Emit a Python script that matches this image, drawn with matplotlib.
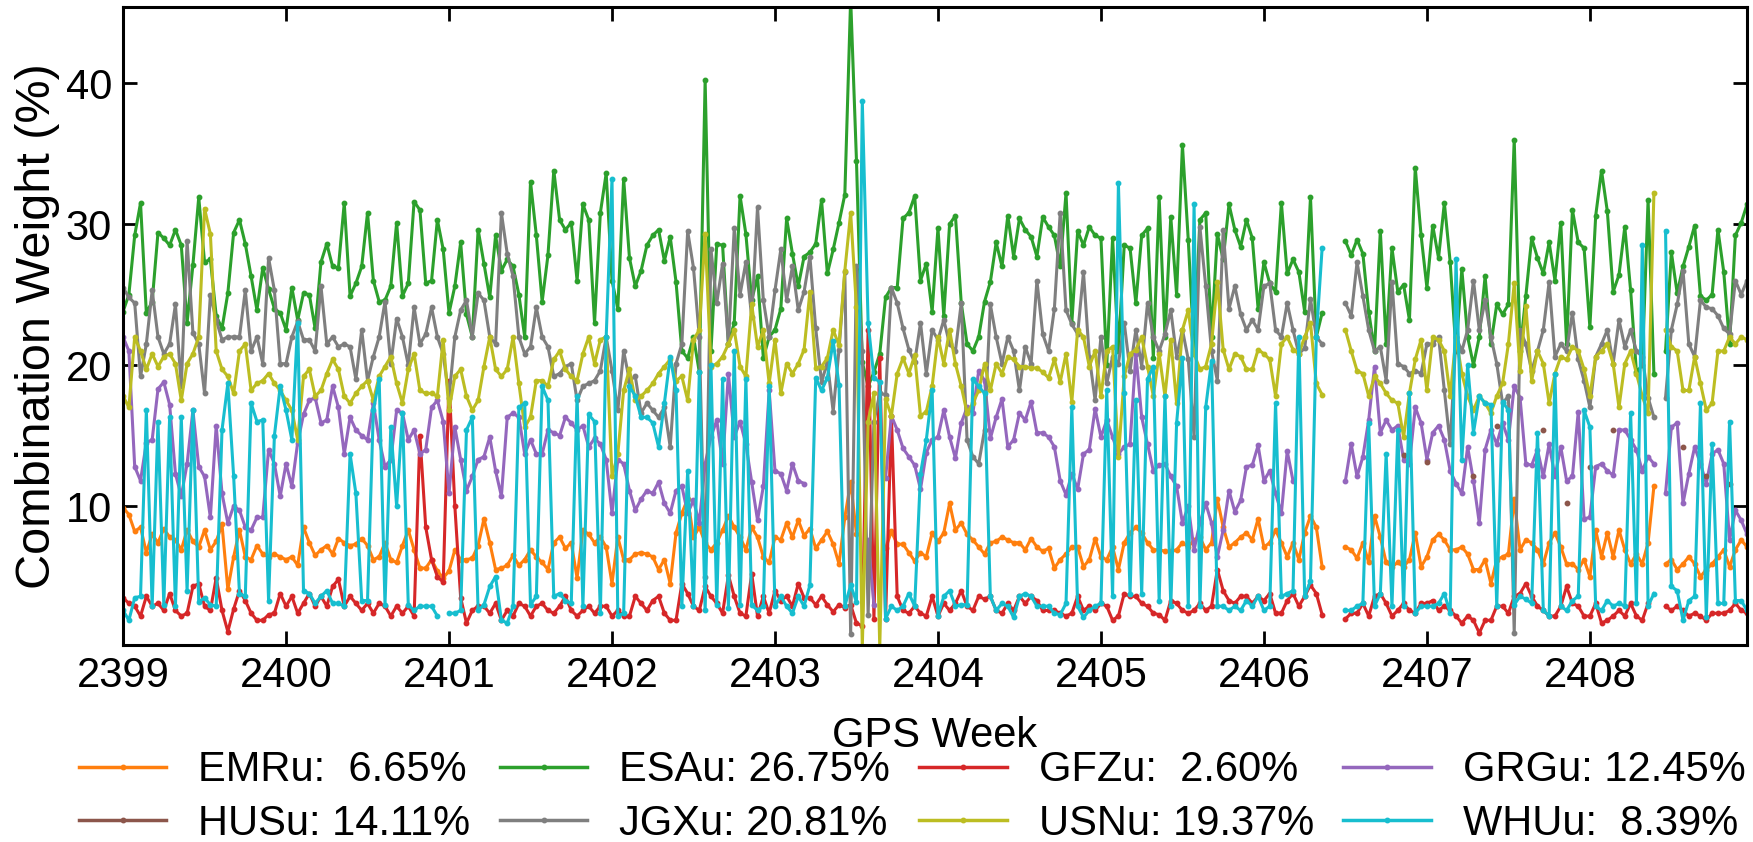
import numpy as np
import matplotlib
matplotlib.use("Agg")
import matplotlib.pyplot as plt

nan = float("nan")

# ---------------- data (6-hourly epochs, 28 per GPS week) ----------------
start_week = 2399
epochs_per_week = 28
n_epochs = 280

centers = ["EMRu", "ESAu", "GFZu", "GRGu", "HUSu", "JGXu", "USNu", "WHUu"]
mean_weights = [6.65, 26.75, 2.60, 12.45, 14.11, 20.81, 19.37, 8.39]
colors = ["#ff7f0e", "#2ca02c", "#d62728", "#9467bd", "#8c564b", "#7f7f7f", "#bcbd22", "#17becf"]

emr = [9.9, 9.4, 8.2, 8.5, 6.7, 8.0, 7.4, 8.4, 7.8, 7.6, 6.9, 8.3, 7.5, 7.1, 8.3, 6.9, 7.5, 8.7, 4.1, 6.4, 8.3, 6.4, 6.2, 7.2, 6.6, 6.4, 6.6, 6.4,
       6.2, 6.4, 5.8, 8.5, 7.4, 6.5, 6.9, 7.2, 6.6, 7.7, 7.4, 7.2, 7.3, 7.7, 7.2, 6.2, 6.4, 7.4, 6.2, 6.0, 7.2, 8.3, 6.9, 5.6, 5.6, 6.2, 5.4, 4.9,
       5.4, 6.9, 6.2, 6.2, 6.3, 7.2, 9.1, 7.4, 5.5, 5.6, 5.8, 6.5, 5.8, 6.2, 6.9, 6.4, 6.0, 5.5, 7.4, 7.8, 7.0, 7.4, 4.9, 8.3, 8.0, 7.4, 7.8, 7.1,
       4.5, 7.8, 6.2, 6.2, 6.6, 6.7, 6.6, 6.4, 5.5, 6.2, 4.5, 8.1, 9.5, 10.5, 7.8, 8.5, 7.4, 6.9, 7.4, 8.3, 9.3, 8.5, 7.8, 6.9, 8.5, 7.8, 6.4, 6.0,
       7.8, 7.6, 8.8, 7.8, 9.0, 7.9, 8.4, 7.0, 7.6, 8.2, 7.3, 5.9, 9.2, 11.7, 8.0, nan, nan, nan, nan, 7.0, 8.2, 7.3, 7.3, 6.7, 6.1, 6.7, 6.4, 8.1,
       7.5, 8.1, 10.2, 8.3, 8.8, 8.0, 7.6, 7.1, 6.6, 7.4, 7.5, 7.8, 7.6, 7.4, 7.4, 6.9, 7.7, 7.1, 6.8, 7.0, 5.6, 6.2, 6.6, 7.1, 7.1, 5.7, 6.2, 7.7,
       6.4, 6.2, 7.1, 5.5, 7.4, 8.1, 8.5, 8.1, 7.4, 6.9, 6.9, 6.8, 6.8, 6.9, 7.4, 7.1, 7.6, 7.8, 6.9, 7.4, 10.5, 8.5, 7.1, 7.4, 7.8, 8.1, 7.6, 9.1,
       7.1, 7.4, 8.3, 7.4, 6.4, 7.4, 6.2, 8.1, 9.3, 8.5, 5.7, nan, nan, nan, 7.1, 6.9, 6.3, 7.4, 6.0, 9.3, 7.8, 6.0, 5.7, 6.0, 5.7, 6.2, 8.1, 5.7,
       6.4, 7.6, 8.0, 7.6, 6.9, 6.9, 7.1, 6.6, 5.5, 5.5, 6.2, 4.5, 6.2, 6.4, 6.6, 10.5, 6.9, 7.6, 7.4, 6.9, 5.9, 7.4, 8.1, 7.1, 5.9, 5.9, 5.5, 6.2,
       5.0, 8.3, 6.4, 8.1, 6.4, 8.3, 6.9, 5.9, 6.6, 5.9, 7.4, 11.4, nan, 5.9, 6.2, 5.5, 5.9, 6.4, 5.9, 5.0, 5.5, 5.9, 6.4, 6.9, 5.7, 6.9, 7.6, 7.1]

esa = [23.8, 25.0, 29.2, 31.5, 23.7, 24.5, 29.4, 29.0, 28.5, 29.6, 28.5, 23.0, 27.1, 31.9, 27.3, 27.5, 23.5, 22.6, 25.1, 29.4, 30.3, 28.6, 26.3, 23.9, 26.9, 25.4, 24.0, 23.7,
       22.5, 25.5, 23.2, 25.1, 25.0, 22.6, 27.3, 28.6, 27.0, 26.9, 31.5, 24.9, 25.8, 27.0, 30.8, 26.0, 24.5, 24.6, 25.6, 30.1, 24.9, 25.8, 31.6, 31.0, 25.8, 26.0, 30.3, 28.2,
       23.7, 25.6, 28.7, 23.6, 22.0, 29.6, 27.2, 24.8, 29.2, 26.7, 27.5, 27.0, 25.0, 22.0, 33.0, 29.2, 24.5, 27.8, 33.8, 30.3, 29.6, 30.1, 26.0, 31.4, 30.3, 23.0, 30.8, 33.6,
       26.0, 24.0, 33.2, 27.6, 25.6, 26.7, 28.5, 29.2, 29.6, 27.4, 29.1, 25.9, 21.0, 20.5, 22.0, 19.5, 40.2, 21.0, 28.6, 28.5, 21.5, 23.0, 32.0, 29.3, 24.6, 26.3, 20.5, 22.0,
       22.5, 24.0, 30.4, 27.9, 25.6, 27.7, 28.0, 28.6, 31.7, 26.5, 28.2, 30.1, 32.1, 46.0, 34.5, 20.2, 18.5, 19.5, 20.8, 24.8, 25.5, 25.5, 30.4, 30.8, 32.0, 26.0, 27.2, 23.8,
       29.7, 23.5, 30.0, 30.6, 24.4, 21.5, 21.0, 22.0, 24.5, 25.9, 28.7, 27.0, 30.6, 27.7, 30.4, 29.6, 29.1, 27.7, 30.5, 29.8, 29.2, 27.0, 32.2, 23.0, 29.5, 28.5, 29.8, 29.2,
       29.0, 20.0, 29.0, 21.0, 28.5, 28.3, 24.4, 29.2, 29.7, 20.5, 31.9, 22.0, 30.5, 25.0, 35.6, 28.9, 21.0, 30.3, 30.8, 22.0, 29.3, 27.5, 31.4, 29.6, 28.4, 30.3, 29.0, 24.0,
       27.3, 25.8, 25.2, 31.5, 26.5, 27.5, 26.6, 23.8, 31.9, 22.0, 23.7, nan, nan, nan, 28.8, 27.8, 28.9, 27.9, 23.8, 21.0, 29.5, 21.5, 28.3, 25.2, 25.7, 23.2, 34.0, 29.2,
       25.5, 29.9, 27.6, 31.5, 27.3, 21.0, 26.8, 22.0, 20.0, 22.0, 26.3, 21.5, 24.3, 23.6, 24.3, 36.0, 21.0, 24.9, 29.0, 27.6, 26.5, 28.7, 26.0, 30.1, 21.5, 31.0, 28.7, 28.3,
       22.7, 30.6, 33.8, 30.9, 25.2, 26.4, 29.8, 25.3, 19.5, 20.0, 31.7, 19.4, nan, 21.0, 28.0, 25.1, 27.0, 28.4, 29.9, 24.9, 24.6, 25.0, 29.6, 26.6, 21.5, 29.2, 30.1, 31.4]

gfz = [3.5, 3.1, 2.9, 2.2, 3.6, 2.9, 3.1, 2.6, 3.8, 2.6, 2.2, 2.4, 4.3, 4.5, 2.9, 2.6, 4.9, 2.6, 1.1, 2.7, 4.0, 3.3, 2.4, 1.9, 1.9, 2.3, 2.4, 3.8,
       2.9, 3.6, 2.4, 3.1, 3.8, 2.9, 3.6, 2.9, 4.3, 4.8, 2.9, 3.6, 3.1, 2.6, 3.1, 2.4, 3.1, 2.9, 2.2, 2.9, 2.4, 2.9, 2.2, 15.0, 8.5, 6.2, 5.0, 4.6,
       18.9, 10.0, 3.5, 1.7, 2.6, 2.9, 2.9, 2.4, 3.1, 1.9, 2.6, 2.2, 3.1, 2.9, 2.2, 2.9, 3.1, 2.6, 2.4, 2.9, 3.6, 2.6, 2.2, 2.6, 2.9, 2.4, 2.9, 2.9,
       2.2, 2.6, 2.2, 2.2, 3.6, 3.1, 2.6, 3.3, 3.6, 2.4, 1.9, 1.9, 4.5, 3.8, 2.9, 2.6, 4.3, 3.6, 3.1, 2.4, 5.1, 3.6, 2.4, 2.2, 5.2, 2.2, 3.6, 2.4,
       4.0, 3.3, 3.6, 2.9, 4.5, 3.5, 3.5, 3.0, 3.6, 3.0, 2.5, 3.0, 2.8, 3.0, 1.7, 1.5, 22.5, 2.0, 20.5, 2.0, 16.4, 3.6, 2.6, 2.4, 2.9, 2.4, 2.2, 3.6,
       2.2, 3.1, 2.6, 3.1, 4.0, 2.9, 2.6, 3.6, 3.4, 3.6, 2.6, 2.4, 3.1, 2.6, 3.6, 3.1, 3.6, 3.3, 2.6, 2.6, 2.6, 2.4, 2.2, 2.4, 3.6, 2.6, 2.9, 2.6,
       3.1, 2.9, 1.9, 2.2, 3.8, 3.6, 3.6, 3.1, 2.9, 2.4, 2.3, 1.9, 3.3, 3.1, 2.6, 2.4, 2.6, 3.1, 2.6, 2.9, 5.5, 4.0, 3.3, 3.1, 3.6, 3.6, 3.1, 3.6,
       3.3, 3.8, 2.4, 2.4, 3.3, 3.8, 2.9, 3.6, 4.4, 3.8, 2.3, nan, nan, nan, 2.0, 2.4, 2.4, 3.1, 2.2, 3.6, 3.8, 3.1, 2.2, 2.6, 3.1, 2.6, 2.4, 3.1,
       3.1, 3.3, 2.6, 2.9, 2.6, 2.2, 1.7, 2.2, 1.9, 1.0, 1.9, 1.9, 2.9, 2.9, 2.4, 3.6, 3.8, 4.5, 3.6, 2.9, 2.6, 2.2, 2.2, 2.9, 4.3, 3.1, 2.9, 2.2,
       2.2, 3.1, 1.7, 1.9, 2.2, 2.6, 2.2, 3.1, 2.2, 1.9, 3.1, nan, nan, 2.9, 2.6, 2.9, 2.6, 2.2, 2.4, 2.2, 1.9, 2.4, 2.4, 2.4, 2.6, 3.1, 2.6, 2.4]

grg = [22.0, 21.0, 12.8, 11.8, 14.5, 14.7, 18.3, 18.8, 17.2, 12.3, 10.7, 13.0, 16.8, 12.8, 12.1, 9.2, 15.7, 10.9, 8.8, 10.0, 9.7, 8.5, 8.3, 9.2, 9.2, 14.0, 13.0, 10.7,
       13.0, 11.4, 14.5, 16.5, 17.5, 17.7, 15.9, 16.1, 18.5, 17.0, 13.7, 16.3, 15.4, 15.0, 14.7, 17.3, 14.7, 12.8, 13.3, 16.8, 16.6, 14.7, 15.4, 13.7, 14.0, 17.0, 17.5, 16.0,
       10.9, 15.6, 13.3, 11.1, 12.1, 13.3, 13.5, 14.9, 12.5, 10.7, 16.3, 16.6, 16.3, 13.7, 14.7, 13.7, 13.7, 15.4, 15.2, 15.0, 16.3, 15.9, 15.4, 15.7, 14.2, 14.8, 14.4, 13.3,
       9.5, 13.3, 13.0, 11.1, 9.7, 10.5, 11.1, 10.9, 11.7, 10.2, 9.5, 11.1, 11.4, 9.5, 10.4, 8.8, 13.0, 14.9, 16.1, 13.0, 19.4, 14.9, 16.0, 14.4, 11.7, 9.0, 11.4, 18.2,
       12.5, 12.3, 11.1, 13.0, 11.8, 11.6, nan, nan, nan, nan, nan, nan, nan, nan, nan, nan, 7.6, 3.0, nan, 12.0, 16.4, 15.4, 14.1, 13.5, 12.9, 11.2, 13.8, 14.7,
       14.9, 16.8, 14.9, 13.4, 15.9, 17.0, 16.6, 19.6, 18.9, 14.8, 16.3, 17.6, 14.2, 14.7, 16.6, 16.1, 17.4, 15.2, 15.2, 14.9, 14.2, 11.8, 10.8, 12.3, 11.2, 13.7, 14.0, 16.9,
       14.9, 16.1, 14.9, 13.7, 14.2, 14.4, 20.8, 16.3, 14.4, 12.5, 12.9, 13.0, 12.1, 11.4, 8.8, 10.0, 6.9, 8.8, 10.2, 8.8, 6.4, 8.3, 11.1, 9.6, 10.4, 12.8, 12.9, 14.3,
       11.8, 12.5, 10.9, 9.5, 13.9, 11.8, nan, nan, nan, nan, nan, nan, nan, nan, 11.8, 14.4, 12.1, 13.5, 16.1, 19.9, 15.2, 16.1, 15.4, 15.7, 13.3, 13.0, 17.0, 15.9,
       13.3, 15.2, 15.7, 14.7, 12.5, 11.6, 10.9, 14.2, 11.8, 8.8, 14.0, 15.4, 14.4, 15.9, 14.7, 18.5, 17.7, 13.0, 12.9, 14.0, 12.1, 14.4, 12.1, 14.2, 11.8, 12.1, 16.7, 9.1,
       9.2, 12.8, 13.0, 12.5, 12.2, 15.4, 15.4, 14.7, 14.0, 12.5, 13.5, 13.0, nan, 10.9, 15.6, 15.9, 10.2, 12.3, 14.2, 13.0, 11.6, 13.7, 14.0, 13.0, 7.6, 9.7, 9.0, 8.0]

hus = ([nan] * 196
       + [nan] * 24 + [13.6, nan, nan, nan]
       + [13.1, nan, nan, nan, nan, nan, nan, nan, 12.1, nan, nan, nan, 15.7, nan, nan, nan,
          nan, nan, nan, nan, 15.4, nan, nan, nan, 10.2, nan, nan, nan]
       + [12.8, nan, nan, nan, 15.4, nan, nan, nan, nan, nan, nan, nan, nan, nan, nan, nan,
          14.2, nan, nan, nan, 12.1, nan, nan, nan, 11.6, nan, nan, nan])

jgx = [25.5, 24.8, 24.4, 19.2, 21.5, 25.3, 22.0, 20.8, 21.5, 24.3, 18.5, 28.8, 22.3, 21.5, 18.0, 25.0, 23.2, 21.8, 22.0, 22.0, 22.0, 25.3, 21.0, 22.0, 20.1, 27.6, 25.3, 20.1,
       20.1, 22.0, 23.1, 21.8, 21.8, 21.0, 25.6, 21.5, 22.0, 21.3, 21.5, 21.3, 19.0, 22.5, 18.9, 20.6, 22.0, 24.5, 20.1, 23.3, 22.0, 20.0, 24.1, 21.5, 22.2, 24.1, 22.0, 20.8,
       17.7, 22.0, 23.9, 24.6, 22.0, 25.1, 24.6, 22.0, 21.5, 30.8, 27.9, 26.3, 22.0, 20.8, 21.3, 24.1, 22.0, 21.3, 19.2, 19.4, 19.9, 20.1, 17.5, 18.5, 18.7, 18.9, 19.6, 22.0,
       19.6, 16.8, 21.0, 18.9, 19.2, 16.6, 17.3, 16.8, 16.3, 17.0, 14.2, 20.1, 21.5, 29.5, 26.9, 22.0, 5.0, 28.2, 24.4, 27.2, 21.5, 29.7, 25.0, 27.3, 23.4, 31.2, 24.6, 22.0,
       25.3, 28.2, 24.6, 27.0, 23.9, 25.2, 27.7, 22.6, 18.8, 20.2, 16.7, 21.1, 26.6, 0.9, 27.0, 21.0, 2.3, 16.0, 18.0, 17.9, 25.5, 24.4, 22.6, 21.1, 20.2, 23.0, 19.4, 22.5,
       21.8, 23.2, 21.5, 21.0, 24.4, 14.7, 13.5, 13.0, 15.4, 24.3, 22.0, 20.1, 22.0, 21.0, 18.2, 21.3, 20.1, 26.0, 22.2, 21.0, 24.0, 30.8, 23.9, 22.9, 22.2, 26.6, 20.6, 17.5,
       22.0, 18.7, 20.6, 20.1, 23.0, 19.6, 22.5, 19.9, 24.4, 22.0, 21.0, 22.2, 23.9, 20.6, 22.5, 20.4, 14.9, 29.8, 25.6, 21.0, 18.9, 29.6, 24.0, 25.6, 23.6, 22.5, 23.2, 22.5,
       25.6, 25.8, 22.5, 22.0, 24.4, 22.5, 20.8, 21.2, 24.7, 22.0, 21.5, nan, nan, nan, 24.4, 23.5, 27.3, 24.9, 22.5, 21.0, 21.3, 18.9, 25.9, 20.1, 19.9, 19.4, 19.6, 19.4,
       21.5, 21.5, 22.0, 18.2, 14.4, 22.0, 21.0, 22.5, 26.0, 22.5, 24.6, 22.0, 20.1, 17.3, 17.8, 1.0, 22.5, 21.5, 19.6, 21.0, 22.5, 25.9, 20.6, 21.5, 21.0, 23.7, 20.4, 18.9,
       17.0, 20.6, 21.5, 22.5, 20.1, 23.2, 21.3, 22.5, 21.0, 20.6, 17.7, 16.3, nan, 17.7, 22.5, 24.3, 26.7, 21.5, 20.6, 24.6, 24.1, 24.0, 23.5, 22.6, 22.2, 26.0, 25.0, 26.0]

usn = [17.8, 17.0, 22.0, 21.0, 19.7, 20.8, 19.9, 20.6, 20.8, 20.1, 17.5, 20.1, 20.8, 22.0, 31.1, 29.3, 21.0, 19.7, 19.2, 18.0, 21.0, 21.5, 18.2, 18.7, 18.9, 19.4, 18.7, 18.2,
       17.5, 16.8, 14.7, 19.2, 19.7, 17.8, 18.2, 19.4, 20.4, 19.7, 17.8, 17.3, 18.0, 18.5, 18.9, 17.5, 19.2, 19.9, 20.6, 18.7, 17.3, 19.7, 20.8, 18.2, 18.0, 18.0, 17.8, 21.8,
       16.8, 19.2, 19.7, 17.8, 16.8, 17.5, 19.9, 22.0, 19.7, 19.2, 19.7, 22.0, 18.7, 15.6, 16.3, 18.9, 18.9, 18.5, 20.4, 21.0, 19.7, 19.2, 18.9, 20.8, 22.0, 20.1, 21.8, 22.0,
       12.1, 13.7, 18.2, 19.7, 17.5, 17.8, 18.2, 18.7, 19.4, 19.9, 20.4, 18.9, 19.2, 17.5, 21.8, 22.5, 29.3, 19.9, 20.1, 20.6, 21.5, 22.5, 19.9, 19.2, 24.3, 21.3, 22.5, 18.7,
       21.8, 18.0, 20.1, 19.4, 20.1, 21.1, 25.2, 19.8, 19.9, 20.5, 22.5, 21.4, 26.7, 30.8, 24.1, 0.0, 16.0, 18.0, 0.0, 17.6, 16.4, 19.4, 20.5, 19.4, 20.7, 16.4, 16.7, 18.5,
       22.0, 20.1, 22.5, 20.1, 18.5, 16.6, 17.3, 18.2, 20.1, 18.2, 20.1, 19.4, 20.6, 20.4, 19.9, 19.9, 19.8, 19.8, 19.5, 19.1, 20.4, 18.8, 20.8, 17.4, 22.5, 22.0, 19.9, 21.0,
       17.8, 21.0, 21.3, 13.5, 19.2, 20.8, 21.1, 22.0, 19.9, 17.8, 20.8, 17.8, 21.8, 17.3, 22.5, 23.9, 20.8, 19.7, 19.9, 21.5, 25.9, 21.1, 19.7, 20.8, 20.6, 19.7, 19.7, 21.1,
       20.8, 20.4, 17.8, 21.5, 22.0, 21.1, 20.8, 22.0, 23.0, 18.7, 17.9, nan, nan, nan, 22.5, 21.0, 19.6, 19.4, 17.8, 19.2, 18.7, 18.0, 17.5, 17.3, 14.9, 18.0, 20.4, 21.8,
       18.2, 22.0, 21.8, 21.0, 17.8, 22.0, 19.4, 17.8, 16.8, 17.8, 17.3, 16.6, 17.8, 18.7, 21.5, 25.8, 19.6, 24.2, 18.9, 21.0, 20.1, 17.3, 19.4, 20.6, 20.4, 21.3, 21.0, 19.7,
       17.8, 20.6, 21.0, 21.5, 20.1, 17.0, 20.1, 21.0, 19.4, 17.8, 16.6, 32.2, nan, 22.5, 21.3, 21.0, 18.2, 18.2, 20.6, 18.7, 16.8, 17.3, 21.0, 21.0, 22.0, 21.5, 22.0, 21.8]

whu = [2.6, 1.9, 3.5, 3.6, 16.8, 2.9, 16.0, 3.0, 16.3, 2.9, 16.3, 4.0, 16.8, 3.2, 3.5, 3.0, 2.9, 15.4, 18.7, 12.1, 3.8, 3.6, 17.3, 16.0, 16.1, 3.3, 15.0, 18.5,
       16.8, 14.7, 23.0, 4.0, 3.8, 3.1, 3.6, 4.0, 3.1, 3.1, 2.9, 13.7, 10.9, 3.3, 3.3, 16.8, 19.0, 3.0, 15.6, 10.0, 16.6, 3.0, 2.6, 2.9, 2.9, 2.9, 2.2, nan,
       2.4, 2.4, 2.6, 15.4, 16.3, 2.6, 3.0, 4.3, 5.0, 1.9, 1.7, 2.9, 17.0, 17.3, 3.0, 3.6, 18.5, 17.5, 3.6, 3.8, 3.3, 3.1, 17.8, 2.9, 16.5, 16.0, 2.4, 22.0,
       33.2, 2.2, 2.4, 18.5, 17.8, 16.3, 16.3, 15.9, 14.2, 17.3, 20.6, 18.2, 2.9, 12.5, 2.9, 19.5, 2.6, 20.0, 3.0, 19.0, 2.8, 21.0, 3.0, 19.0, 3.0, 2.6, 2.9, 18.5,
       2.9, 3.6, 2.9, 2.4, 3.6, 2.9, 4.4, 19.1, 18.2, 19.1, 21.7, 18.6, 2.9, 4.4, 3.2, 38.7, 23.0, 19.1, 18.8, 2.0, 2.9, 2.6, 2.9, 3.8, 2.9, 12.3, 14.7, 18.2,
       2.2, 3.6, 4.0, 2.9, 3.0, 3.0, 19.0, 18.5, 18.0, 3.6, 2.6, 3.1, 2.9, 2.1, 3.6, 3.8, 3.6, 2.9, 2.9, 2.9, 2.4, 2.3, 3.1, 17.0, 2.9, 2.1, 2.6, 2.9,
       3.1, 18.2, 3.6, 32.9, 18.0, 3.8, 17.5, 3.8, 19.0, 19.9, 3.3, 17.8, 2.9, 15.9, 20.5, 2.9, 31.4, 2.9, 17.0, 20.3, 2.9, 2.9, 2.6, 2.9, 2.6, 3.3, 2.9, 3.6,
       2.6, 2.9, 17.3, 3.6, 3.8, 4.0, 22.0, 3.6, 4.7, 22.0, 28.3, nan, nan, nan, 2.6, 2.6, 2.9, 3.1, 15.9, 2.9, 3.8, 13.7, 2.9, 15.4, 2.9, 18.0, 2.4, 2.9,
       2.9, 2.9, 3.1, 3.8, 2.4, 27.5, 13.3, 20.0, 15.2, 17.8, 17.3, 17.2, 2.9, 17.4, 16.8, 3.0, 3.6, 3.4, 3.1, 15.2, 2.6, 2.2, 19.4, 2.9, 2.6, 3.3, 3.6, 16.8,
       15.6, 2.9, 2.6, 3.3, 2.9, 3.1, 2.9, 16.6, 3.1, 28.5, 2.9, 3.8, nan, 29.5, 4.3, 4.0, 1.9, 3.3, 3.6, 17.3, 2.1, 14.4, 3.1, 3.1, 16.0, 3.3, 3.3, 2.6]

series = [emr, esa, gfz, grg, hus, jgx, usn, whu]
week_ticks = list(range(2399, 2409))
y_ticks = [10, 20, 30, 40]

# ---------------- plot ----------------
plt.rcParams['font.family'] = ['Liberation Sans', 'DejaVu Sans']
plt.rcParams['font.size'] = 30

fig = plt.figure(figsize=(17.53, 8.42), dpi=100)
ax = fig.add_axes([0.0702, 0.234, 0.9264, 0.7577])

x = start_week + np.arange(n_epochs) / epochs_per_week
labels = [f"{n}: {w:5.2f}%" for n, w in zip(centers, mean_weights)]
handles = []
for lab, vals, c in zip(labels, series, colors):
    v = np.asarray(vals, dtype=float)
    (ln,) = ax.plot(x, v, '-', color=c, lw=2.2, marker='o', ms=3.2, label=lab)
    handles.append(ln)

ax.set_xlim(x[0], x[-1])
ax.set_ylim(0.15, 45.4)
ax.set_xticks(week_ticks)
ax.set_xticklabels([str(t) for t in week_ticks])
ax.set_yticks(y_ticks)
ax.tick_params(direction='in', length=10, width=2, top=True, right=True, pad=8, labelsize=30)
for s in ax.spines.values():
    s.set_linewidth(2.2)
ax.set_xlabel("GPS Week", fontsize=30, labelpad=14)
ax.set_ylabel("Combination Weight (%)", fontsize=35, labelpad=4)

order = [0, 4, 1, 5, 2, 6, 3, 7]
leg = fig.legend([handles[i] for i in order], [labels[i] for i in order],
                 loc='upper left', bbox_to_anchor=(0.045, 0.109), ncol=4, frameon=False,
                 fontsize=30, handlelength=2.1, handletextpad=0.77, columnspacing=0.7,
                 labelspacing=0.33, borderpad=0, borderaxespad=0)
for lh in leg.get_lines():
    lh.set_linewidth(2.5)

fig.savefig("out.png", dpi=100)
